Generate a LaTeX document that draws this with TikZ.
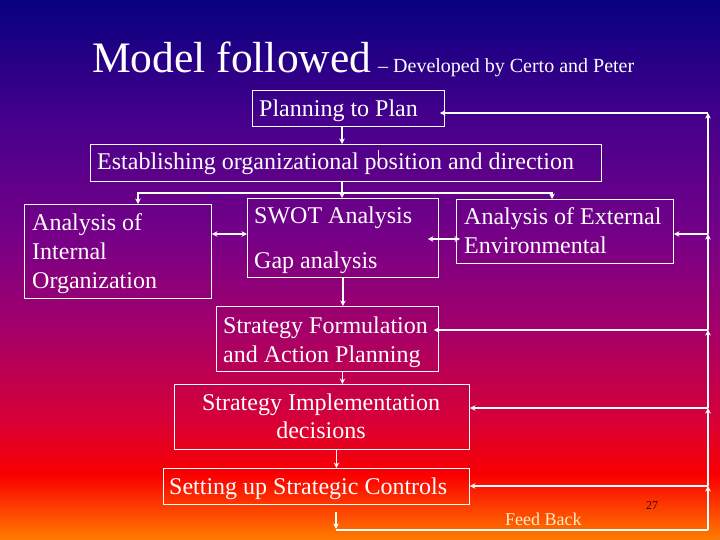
\documentclass[tikz,border=0pt]{standalone}
\usepackage{fontspec}
\setmainfont{Liberation Serif}
\usetikzlibrary{arrows.meta,calc}
\definecolor{g0}{RGB}{8,0,128}
\definecolor{g1}{RGB}{70,0,140}
\definecolor{g2}{RGB}{120,0,135}
\definecolor{g3}{RGB}{165,0,105}
\definecolor{g4}{RGB}{215,0,55}
\definecolor{g5}{RGB}{250,0,0}
\definecolor{g6}{RGB}{255,125,0}
\definecolor{cream}{RGB}{255,238,200}
\definecolor{pagenum}{RGB}{60,0,0}
\tikzset{
  box/.style={draw=white, line width=0.9pt, inner sep=0pt, anchor=north west, rectangle},
  txt/.style={text=white, font=\fontsize{24}{29}\selectfont, inner sep=0pt, anchor=base west},
  conn/.style={draw=white, line width=1.7pt},
  arr/.style={conn, -{Stealth[length=5.5pt,width=5.5pt]}},
  darr/.style={conn, {Stealth[length=5.5pt,width=5.5pt]}-{Stealth[length=5.5pt,width=5.5pt]}}
}
\begin{document}
\begin{tikzpicture}[x=1pt,y=-1pt]
\useasboundingbox (0,0) rectangle (720,540);
% background gradient
\shade[top color=g0,bottom color=g1] (0,0) rectangle (720,120.5);
\shade[top color=g1,bottom color=g2] (0,120) rectangle (720,240.5);
\shade[top color=g2,bottom color=g3] (0,240) rectangle (720,330.5);
\shade[top color=g3,bottom color=g4] (0,330) rectangle (720,420.5);
\shade[top color=g4,bottom color=g5] (0,420) rectangle (720,475.5);
\shade[top color=g5,bottom color=g6] (0,475) rectangle (720,540);

% title
\node[anchor=base west, inner sep=0pt, text=white, font=\fontsize{43.5}{50}\selectfont] (title) at (92,73) {Model followed};
\node[anchor=base west, inner sep=0pt, text=white, font=\fontsize{20}{24}\selectfont] (subtitle) at (378,73) {– Developed by Certo and Peter};

% boxes
\node[box, minimum width=192pt, minimum height=36pt] (b1) at (252,90) {};
\node[box, minimum width=511pt, minimum height=37pt] (b2) at (90,144) {};
\node[box, minimum width=187pt, minimum height=94pt] (b3) at (24,204) {};
\node[box, minimum width=191pt, minimum height=79pt] (b4) at (247,198) {};
\node[box, minimum width=217pt, minimum height=64pt] (b5) at (456,199) {};
\node[box, minimum width=222pt, minimum height=65pt] (b6) at (216,306) {};
\node[box, minimum width=295pt, minimum height=65pt] (b7) at (174,384) {};
\node[box, minimum width=306pt, minimum height=36pt] (b8) at (163,468) {};

% texts
\node[txt] (t1) at (259,116.7) {Planning to Plan};
\node[txt] (t2) at (97,169.5) {Establishing organizational position and direction};
\node[txt] (t3a) at (32,230) {Analysis of};
\node[txt] (t3b) at (32,259) {Internal};
\node[txt] (t3c) at (32,288) {Organization};
\node[txt] (t4a) at (254,223) {SWOT Analysis};
\node[txt] (t4b) at (254,268) {Gap analysis};
\node[txt] (t5a) at (464,225) {Analysis of External};
\node[txt] (t5b) at (464,253) {Environmental};
\node[txt] (t6a) at (223,333) {Strategy Formulation};
\node[txt] (t6b) at (223,362) {and Action Planning};
\node[txt, anchor=base] (t7a) at (321,410) {Strategy Implementation};
\node[txt, anchor=base] (t7b) at (321,438) {decisions};
\node[txt] (t8) at (169,494) {Setting up Strategic Controls};
\node[anchor=base west, inner sep=0pt, text=cream, font=\fontsize{18}{22}\selectfont] (fbl) at (505,525) {Feed Back};
\node[anchor=base west, inner sep=0pt, text=pagenum, font=\fontsize{12}{14}\selectfont] (pnum) at (646,509) {27};

% main flow
\draw[arr] ($(b1.south west)+(90,0)$) -- ($(b2.north west)+(252,0)$);
\draw[draw=white, line width=1pt] ($(b2.north west)+(288,6)$) -- ($(b2.north west)+(288,17)$);
\coordinate (j0) at ($(b2.south west)+(252,11)$);
\draw[conn] ($(b2.south west)+(252,0)$) -- (j0);
\draw[arr] (j0) -| ($(b3.north west)+(114,0)$);
\draw[arr] (j0) -| ($(b5.north west)+(96,0)$);
\draw[arr] (j0) -- ($(b4.north west)+(95,0)$);
\draw[darr] ($(b3.north east)+(0,30)$) -- ($(b4.north west)+(0,36)$);
\draw[darr] ($(b4.north east)+(-11,41)$) -- ($(b5.north west)+(4,40)$);
\draw[arr] (b4.south) -- (b4.south |- b6.north);
\draw[arr] ($(b6.south)+(15,0)$) -- ($(b7.north)+(20.5,0)$);
\draw[arr] ($(b7.south)+(14.5,0)$) -- ($(b8.north)+(20,0)$);

% feedback loop
\draw[arr] ($(b8.south west)+(173,7)$) -- ($(b8.south west)+(173,24)$);
\coordinate (fbc) at ($(b8.south west)+(545,25)$);
\draw[conn] ($(b8.south west)+(173,25)$) -- (fbc);
\coordinate (k5) at (708,486);
\coordinate (k4) at (708,408);
\coordinate (k3) at (708,330);
\coordinate (k2) at (708,234);
\coordinate (k1) at (708,113);
\draw[arr] (fbc) -- (k5);
\draw[arr] (k5) -- (k4);
\draw[arr] (k4) -- (k3);
\draw[arr] (k3) -- (k2);
\draw[arr] (k2) -- (k1);
\draw[arr] (k5) -- (k5 -| b8.east);
\draw[arr] (k4) -- (k4 -| b7.east);
\draw[arr] (k3) -- ($(k3 -| b6.east)+(-5,0)$);
\draw[arr] (k2) -- (k2 -| b5.east);
\draw[arr] (k1) -- ($(k1 -| b1.east)+(-5,0)$);
\end{tikzpicture}
\end{document}
